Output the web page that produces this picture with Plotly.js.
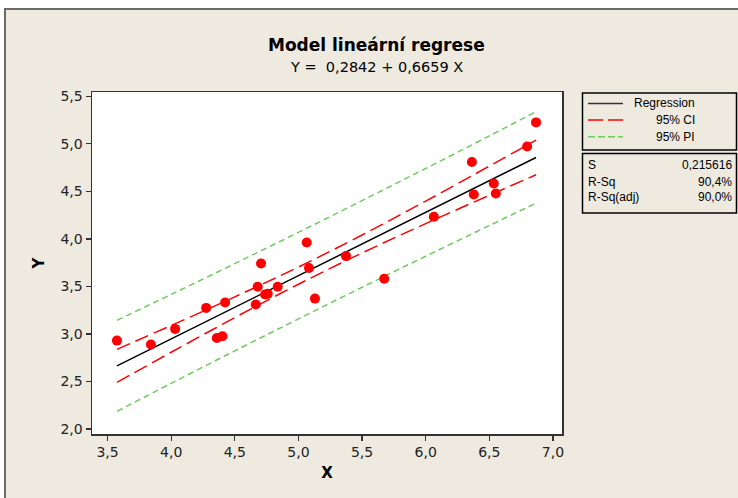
<!DOCTYPE html>
<html><head><meta charset="utf-8">
<script src="https://cdn.plot.ly/plotly-3.0.1.min.js"></script>
<style>
html,body{margin:0;padding:0;background:#fff;width:738px;height:498px;overflow:hidden;}
#frame{position:absolute;left:4px;top:8px;width:734px;height:490px;border-left:2px solid #6b6b6b;border-top:2px solid #6b6b6b;background:#EEEAE0;}
#chart{width:732px;height:488px;}
</style></head><body><div id="frame"><div id="chart"></div></div>
<script>
const xObs = [3.574, 3.841, 4.031, 4.275, 4.424, 4.359, 4.403, 4.706, 4.680, 4.665, 4.738, 4.759, 4.837,
              5.065, 5.083, 5.130, 5.374, 5.674, 6.064, 6.363, 6.378, 6.535, 6.551, 6.797, 6.867];
const yObs = [2.930, 2.888, 3.053, 3.274, 3.330, 2.958, 2.976, 3.741, 3.496, 3.309, 3.415, 3.422, 3.496,
              3.962, 3.693, 3.372, 3.819, 3.580, 4.233, 4.809, 4.468, 4.584, 4.478, 4.973, 5.226];

// Fitted line and bands (at these X positions)
const xBand   = [3.574, 4.0, 4.5, 5.0, 5.5, 6.0, 6.5, 6.867];
const yFit    = [2.664, 2.948, 3.281, 3.614, 3.947, 4.280, 4.613, 4.857];
const ciUpper = [2.838, 3.089, 3.390, 3.704, 4.041, 4.398, 4.766, 5.040];
const ciLower = [2.490, 2.807, 3.172, 3.523, 3.852, 4.161, 4.459, 4.675];
const piUpper = [3.143, 3.416, 3.740, 4.069, 4.403, 4.741, 5.084, 5.339];
const piLower = [2.185, 2.480, 2.822, 3.158, 3.491, 3.818, 4.141, 4.375];

// Tick values
const xTicks = [3.5, 4.0, 4.5, 5.0, 5.5, 6.0, 6.5, 7.0];
const yTicks = [2.0, 2.5, 3.0, 3.5, 4.0, 4.5, 5.0, 5.5];

// Texts
const titleText = 'Model lineární regrese';
const subtitleText = 'Y =\u00a0 0,2842 + 0,6659 X';
const legendLabels = ['Regression', '95% CI', '95% PI'];
const statLabels = ['S', 'R-Sq', 'R-Sq(adj)'];
const statValues = ['0,215616', '90,4%', '90,0%'];

// ---- layout helpers (page pixel -> paper fraction) ----
const P = {l: 92, r: 562, t: 92, b: 434};
const px = v => (v - P.l) / (P.r - P.l);
const py = v => (P.b - v) / (P.b - P.t);

const RED = '#FF0000', GREEN = '#6FCB5F', BLACK = '#000000';
const CI_DASH = '14px,6px', PI_DASH = '6px,4px';
const FONT = 'DejaVu Sans, Verdana, sans-serif';
const LFONT = 'Liberation Sans, Arial, sans-serif';

const traces = [
  {x: xBand, y: piUpper, mode: 'lines', line: {color: GREEN, width: 1.5, dash: PI_DASH, shape: 'spline'}, hoverinfo: 'skip'},
  {x: xBand, y: piLower, mode: 'lines', line: {color: GREEN, width: 1.5, dash: PI_DASH, shape: 'spline'}, hoverinfo: 'skip'},
  {x: xBand, y: ciUpper, mode: 'lines', line: {color: RED, width: 1.5, dash: CI_DASH, shape: 'spline'}, hoverinfo: 'skip'},
  {x: xBand, y: ciLower, mode: 'lines', line: {color: RED, width: 1.5, dash: CI_DASH, shape: 'spline'}, hoverinfo: 'skip'},
  {x: xBand, y: yFit, mode: 'lines', line: {color: BLACK, width: 1.5}, hoverinfo: 'skip'},
  {x: xObs, y: yObs, mode: 'markers', marker: {color: RED, size: 10}}
];

const shapes = [
  {type: 'rect', xref: 'paper', yref: 'paper', x0: px(582.5), x1: px(736.5), y0: py(93), y1: py(150), line: {color: BLACK, width: 1.5}, fillcolor: 'rgba(0,0,0,0)'},
  {type: 'rect', xref: 'paper', yref: 'paper', x0: px(582.5), x1: px(736.5), y0: py(153.5), y1: py(213), line: {color: BLACK, width: 1.5}, fillcolor: 'rgba(0,0,0,0)'},
  {type: 'line', xref: 'paper', yref: 'paper', x0: px(588), x1: px(623), y0: py(103.5), y1: py(103.5), line: {color: '#333', width: 1.5}},
  {type: 'line', xref: 'paper', yref: 'paper', x0: px(588), x1: px(623), y0: py(120), y1: py(120), line: {color: RED, width: 1.5, dash: '15px,5px'}},
  {type: 'line', xref: 'paper', yref: 'paper', x0: px(588), x1: px(623), y0: py(136.7), y1: py(136.7), line: {color: GREEN, width: 1.5, dash: '7px,3px'}}
];

const ann = [];
ann.push({xref: 'paper', yref: 'paper', x: px(376), y: py(45), text: '<b>' + titleText + '</b>', showarrow: false,
  xanchor: 'center', yanchor: 'middle', font: {family: FONT, size: 17, color: '#000'}});
ann.push({xref: 'paper', yref: 'paper', x: px(376), y: py(67), text: subtitleText, showarrow: false,
  xanchor: 'center', yanchor: 'middle', font: {family: FONT, size: 14.5, color: '#000'}});
const legY = [103.5, 120, 136.7];
legendLabels.forEach((t, i) => ann.push({xref: 'paper', yref: 'paper', x: px(697), y: py(legY[i]), text: t, showarrow: false,
  xanchor: 'right', yanchor: 'middle', font: {family: LFONT, size: 12, color: '#000'}}));
const statY = [165, 181.5, 196.7];
statLabels.forEach((t, i) => {
  ann.push({xref: 'paper', yref: 'paper', x: px(586), y: py(statY[i]), text: t, showarrow: false,
    xanchor: 'left', yanchor: 'middle', font: {family: LFONT, size: 12, color: '#000'}});
  ann.push({xref: 'paper', yref: 'paper', x: px(734), y: py(statY[i]), text: statValues[i], showarrow: false,
    xanchor: 'right', yanchor: 'middle', font: {family: LFONT, size: 12, color: '#000'}});
});

const axisCommon = {
  showgrid: false, zeroline: false, showline: true, linecolor: '#333', linewidth: 1.5, mirror: true,
  ticks: 'outside', ticklen: 5, tickwidth: 1.2, tickcolor: '#333',
  tickfont: {family: FONT, size: 14, color: '#222'}, tickformat: '.1f'
};

const layout = {
  width: 732, height: 488,
  margin: {l: P.l - 6, r: 738 - P.r, t: P.t - 10, b: 498 - P.b, pad: 0},
  paper_bgcolor: '#EEEAE0', plot_bgcolor: '#FFFFFF',
  separators: ', ',
  showlegend: false,
  xaxis: Object.assign({}, axisCommon, {range: [3.378, 7.071], tickvals: xTicks,
    title: {text: '<b>X</b>', font: {family: FONT, size: 15, color: '#000'}, standoff: 8}}),
  yaxis: Object.assign({}, axisCommon, {range: [1.947, 5.546], tickvals: yTicks,
    title: {text: '<b>Y</b>', font: {family: FONT, size: 15, color: '#000'}, standoff: 12}}),
  shapes: shapes,
  annotations: ann
};

Plotly.newPlot('chart', traces, layout, {displayModeBar: false, staticPlot: true});
</script></body></html>
